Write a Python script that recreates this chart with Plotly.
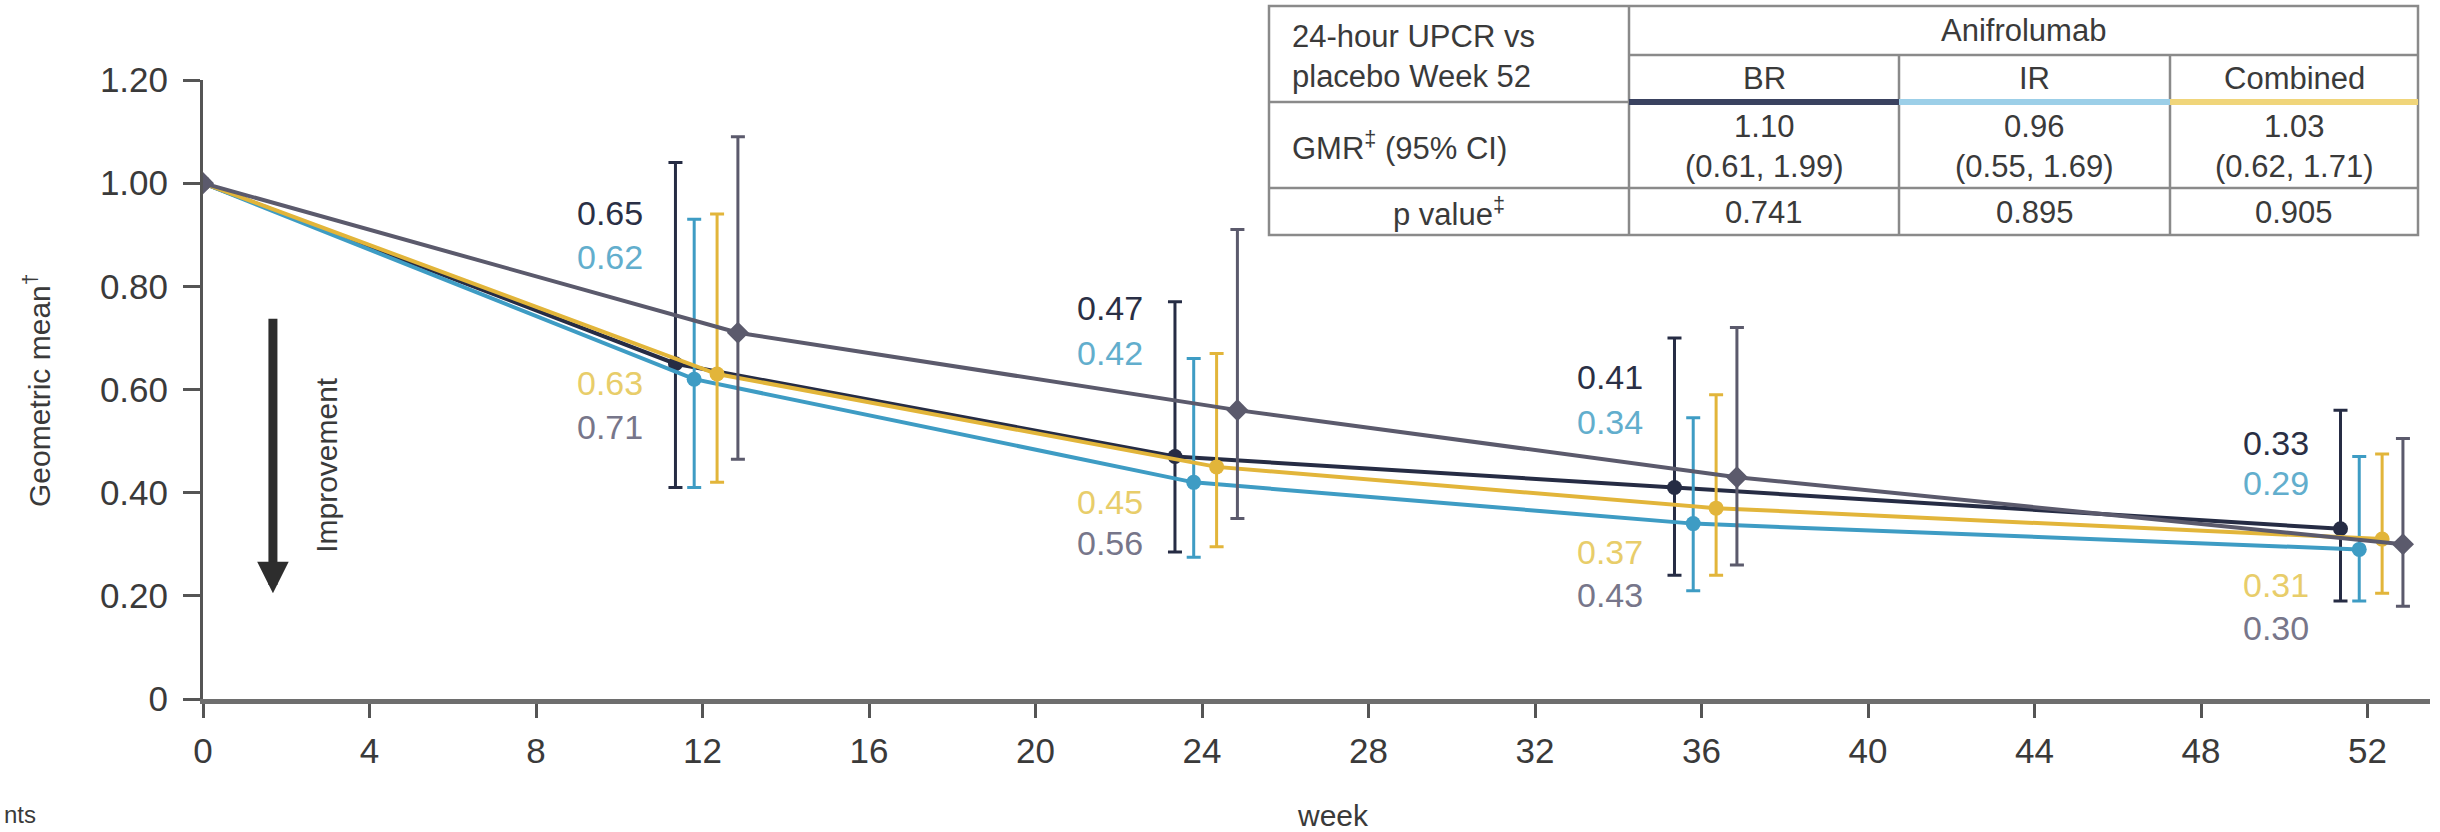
import plotly.graph_objects as go

# ---------------- data ----------------
weeks = [0, 12, 24, 36, 52]
br = [1.00, 0.65, 0.47, 0.41, 0.33]
br_lo = [1.00, 0.41, 0.285, 0.24, 0.19]
br_hi = [1.00, 1.04, 0.77, 0.70, 0.56]
ir = [1.00, 0.62, 0.42, 0.34, 0.29]
ir_lo = [1.00, 0.41, 0.275, 0.21, 0.19]
ir_hi = [1.00, 0.93, 0.66, 0.545, 0.47]
comb = [1.00, 0.63, 0.45, 0.37, 0.31]
comb_lo = [1.00, 0.42, 0.295, 0.24, 0.205]
comb_hi = [1.00, 0.94, 0.67, 0.59, 0.475]
pbo = [1.00, 0.71, 0.56, 0.43, 0.30]
pbo_lo = [1.00, 0.465, 0.35, 0.26, 0.18]
pbo_hi = [1.00, 1.09, 0.91, 0.72, 0.505]

x_ticks = [0, 4, 8, 12, 16, 20, 24, 28, 32, 36, 40, 44, 48, 52]
y_ticks = [0, 0.2, 0.4, 0.6, 0.8, 1.0, 1.2]
y_tick_labels = ["0", "0.20", "0.40", "0.60", "0.80", "1.00", "1.20"]

table_corner = "24-hour UPCR vs<br>placebo Week 52"
table_group = "Anifrolumab"
table_cols = ["BR", "IR", "Combined"]
table_gmr = ["1.10", "0.96", "1.03"]
table_ci = ["(0.61, 1.99)", "(0.55, 1.69)", "(0.62, 1.71)"]
table_p = ["0.741", "0.895", "0.905"]

# ---------------- layout helpers ----------------
W, H = 2440, 832
L, R, T, B = 203, 10, 80, 133
PW, PH = W - L - R, H - T - B
X_MAX = 53.5


def px(x):
    return (x - L) / PW


def py(y):
    return (H - B - y) / PH


FONT = "Liberation Sans, Arial, sans-serif"
TXT = "#3a3a3a"

series = [
    # name, values, lo, hi, line colour, label colour, symbol, dodge
    ("BR", br, br_lo, br_hi, "#262c44", "#2a2f45", "circle", -0.65),
    ("IR", ir, ir_lo, ir_hi, "#3e9cc4", "#62aecd", "circle", -0.2),
    ("Combined", comb, comb_lo, comb_hi, "#e2b53a", "#e8cd6a", "circle", 0.35),
    ("Placebo", pbo, pbo_lo, pbo_hi, "#5b5a6c", "#77768a", "diamond", 0.85),
]

# label anchor heights (layout, data units) for each visit, order BR, IR, Combined, Placebo
label_y = {
    12: [0.942, 0.857, 0.613, 0.527],
    24: [0.758, 0.671, 0.382, 0.302],
    36: [0.624, 0.537, 0.285, 0.202],
    52: [0.496, 0.419, 0.221, 0.138],
}

fig = go.Figure()
for name, vals, lo, hi, col, lcol, sym, off in series:
    xs = [w + off if w > 0 else w for w in weeks]
    fig.add_trace(go.Scatter(
        x=xs, y=vals, mode="lines+markers", name=name,
        line=dict(color=col, width=4),
        marker=dict(color=col, size=15 if sym == "circle" else 17, symbol=sym),
        error_y=dict(
            type="data", symmetric=False,
            array=[h - v for h, v in zip(hi, vals)],
            arrayminus=[v - l for v, l in zip(vals, lo)],
            color=col, thickness=3, width=7,
        ),
        showlegend=False,
    ))

annotations = []
br_off = series[0][7]
for i, w in enumerate(weeks):
    if w == 0:
        continue
    for k, s in enumerate(series):
        annotations.append(dict(
            x=w + br_off - 0.72, y=label_y[w][k], xref="x", yref="y",
            text=f"{s[1][i]:.2f}", showarrow=False, xanchor="right", yanchor="middle",
            font=dict(family=FONT, size=34, color=s[5]),
        ))

# improvement arrow
annotations.append(dict(
    x=1.68, y=0.205, ax=1.68, ay=0.74, xref="x", yref="y", axref="x", ayref="y",
    text="", showarrow=True, arrowhead=2, arrowsize=0.7, arrowwidth=9, arrowcolor="#2d2d2d",
))
annotations.append(dict(
    x=2.98, y=0.454, xref="x", yref="y", text="Improvement", textangle=-90,
    xanchor="center", yanchor="middle",
    showarrow=False, font=dict(family=FONT, size=30, color=TXT),
))

# axis titles
annotations.append(dict(
    x=px(37), y=py(391), xref="paper", yref="paper", text="Geometric mean<sup>†</sup>",
    textangle=-90, xanchor="center", yanchor="middle",
    showarrow=False, font=dict(family=FONT, size=30, color=TXT),
))
annotations.append(dict(
    x=px(1333), y=py(815), xref="paper", yref="paper", text="week",
    xanchor="center", yanchor="middle",
    showarrow=False, font=dict(family=FONT, size=30, color=TXT),
))
annotations.append(dict(
    x=px(2), y=py(814), xref="paper", yref="paper", text="nts", xanchor="left",
    yanchor="middle", showarrow=False, font=dict(family=FONT, size=24, color=TXT),
))

# ---------------- table ----------------
tx = [1269, 1629, 1899, 2170, 2418]
ty = [6, 55, 102, 188, 235]
GRID = "#8a8a8a"
shapes = [dict(type="rect", xref="paper", yref="paper", x0=px(tx[0]), x1=px(tx[4]),
               y0=py(ty[0]), y1=py(ty[4]), line=dict(color=GRID, width=2.5),
               fillcolor="white", layer="above")]


def hline(x0, x1, y, color=GRID, width=2.5):
    shapes.append(dict(type="line", xref="paper", yref="paper", x0=px(x0), x1=px(x1),
                       y0=py(y), y1=py(y), line=dict(color=color, width=width), layer="above"))


def vline(x, y0, y1):
    shapes.append(dict(type="line", xref="paper", yref="paper", x0=px(x), x1=px(x),
                       y0=py(y0), y1=py(y1), line=dict(color=GRID, width=2.5), layer="above"))


vline(tx[1], ty[0], ty[4])
vline(tx[2], ty[1], ty[4])
vline(tx[3], ty[1], ty[4])
hline(tx[1], tx[4], ty[1])
hline(tx[0], tx[1], ty[2])
hline(tx[1], tx[2], ty[2], "#3a4260", 6)
hline(tx[2], tx[3], ty[2], "#9ccfe8", 6)
hline(tx[3], tx[4], ty[2], "#f0d57a", 6)
hline(tx[0], tx[4], ty[3])


def tab_text(x, y, text, anchor="center", size=31):
    annotations.append(dict(x=px(x), y=py(y), xref="paper", yref="paper", text=text,
                            showarrow=False, xanchor=anchor, yanchor="middle",
                            align=anchor if anchor != "center" else "center",
                            font=dict(family=FONT, size=size, color=TXT)))


tab_text(1290, 56, table_corner, "left")
tab_text((tx[1] + tx[4]) / 2, 31, table_group)
for j in range(3):
    cx = (tx[j + 1] + tx[j + 2]) / 2
    tab_text(cx, 79, table_cols[j])
    tab_text(cx, 146, table_gmr[j] + "<br>" + table_ci[j])
    tab_text(cx, 212, table_p[j])
tab_text(1290, 146, "GMR<sup>‡</sup> (95% CI)", "left")
tab_text((tx[0] + tx[1]) / 2, 212, "p value<sup>‡</sup>")

fig.update_layout(
    width=W, height=H, autosize=False,
    margin=dict(l=L, r=R, t=T, b=B, pad=0),
    paper_bgcolor="white", plot_bgcolor="white",
    font=dict(family=FONT, color=TXT),
    annotations=annotations, shapes=shapes,
    xaxis=dict(range=[0, X_MAX], tickvals=x_ticks, ticktext=[str(t) for t in x_ticks],
               showgrid=False, zeroline=False, showline=True, linecolor="#6e6e6e", linewidth=5,
               ticks="outside", ticklen=14, tickwidth=3, tickcolor="#555",
               ticklabelstandoff=3, tickfont=dict(family=FONT, size=35, color=TXT)),
    yaxis=dict(range=[0, 1.2], tickvals=y_ticks, ticktext=y_tick_labels,
               showgrid=False, zeroline=False, showline=True, linecolor="#555", linewidth=3,
               ticks="outside", ticklen=17, tickwidth=3, tickcolor="#555",
               ticklabelstandoff=8, tickfont=dict(family=FONT, size=35, color=TXT)),
)

fig.write_html("out.html")
